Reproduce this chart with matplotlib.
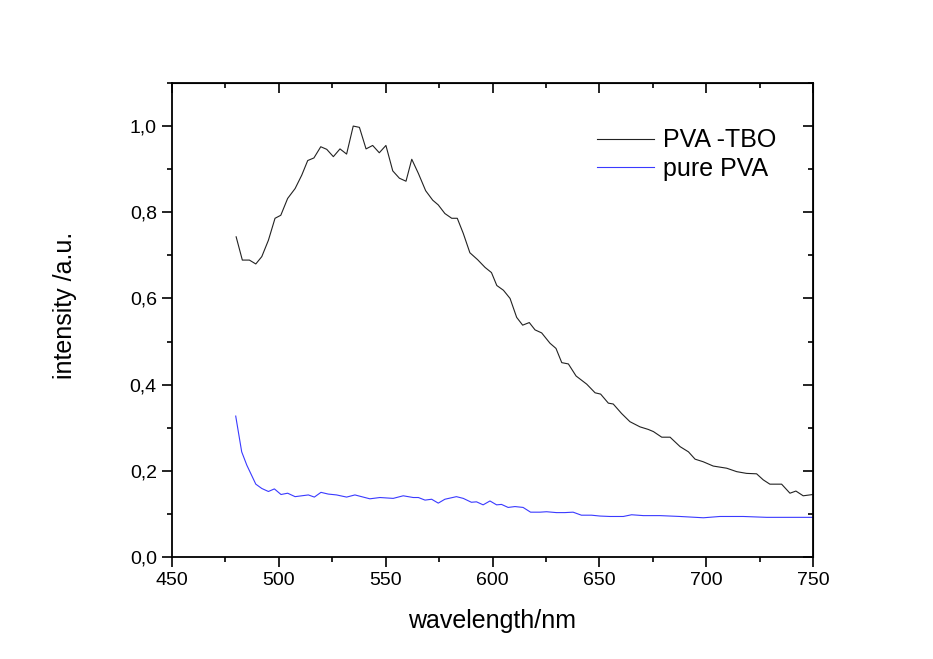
import numpy as np
import matplotlib
matplotlib.use('Agg')
import matplotlib.pyplot as plt
from matplotlib.ticker import MultipleLocator, FuncFormatter

plt.rcParams['font.family'] = ['Liberation Sans', 'DejaVu Sans']

# PVA -TBO spectrum
tbo_wl = [480.0, 482.9, 486.2, 489.2, 492.0, 495.1, 498.2, 500.9, 504.1, 507.6,
          510.7, 513.5, 516.4, 519.6, 522.4, 525.5, 528.6, 531.7, 534.8, 537.7,
          540.8, 543.9, 547.0, 550.1, 553.3, 556.4, 559.5, 562.2, 565.3, 568.7,
          572.0, 574.6, 577.7, 580.9, 583.5, 586.3, 589.4, 593.0, 596.5, 599.5,
          602.0, 605.1, 608.2, 611.3, 614.1, 617.2, 619.9, 623.0, 626.9, 629.7,
          632.4, 635.5, 639.1, 644.1, 648.0, 650.6, 654.2, 656.5, 660.4, 664.3,
          669.0, 672.9, 675.3, 679.2, 683.1, 687.8, 691.7, 694.8, 698.6, 703.3,
          709.6, 714.3, 718.9, 723.6, 726.7, 729.8, 735.3, 739.2, 742.0, 745.4,
          750.0]
tbo_int = [0.743, 0.689, 0.689, 0.680, 0.697, 0.735, 0.786, 0.793, 0.832, 0.855,
           0.886, 0.920, 0.926, 0.952, 0.946, 0.929, 0.947, 0.935, 1.000, 0.997,
           0.947, 0.955, 0.938, 0.955, 0.896, 0.879, 0.872, 0.923, 0.890, 0.850,
           0.828, 0.817, 0.797, 0.786, 0.786, 0.751, 0.706, 0.690, 0.672, 0.660,
           0.630, 0.619, 0.600, 0.556, 0.538, 0.544, 0.527, 0.520, 0.496, 0.484,
           0.451, 0.448, 0.420, 0.401, 0.381, 0.378, 0.357, 0.355, 0.333, 0.314,
           0.302, 0.296, 0.291, 0.278, 0.278, 0.256, 0.244, 0.227, 0.221, 0.211,
           0.206, 0.198, 0.194, 0.193, 0.179, 0.169, 0.169, 0.148, 0.153, 0.142,
           0.145]

# pure PVA spectrum
pva_wl = [479.8, 482.6, 485.0, 489.2, 492.0, 495.1, 497.9, 501.0, 504.1, 507.6,
          510.7, 513.8, 516.6, 519.7, 523.1, 527.0, 531.7, 535.6, 538.7, 542.6,
          547.3, 553.5, 558.2, 562.9, 565.3, 568.4, 571.5, 574.6, 577.7, 583.1,
          586.3, 590.1, 592.5, 595.6, 598.8, 601.9, 604.2, 607.3, 610.5, 614.3,
          617.8, 622.2, 625.3, 629.9, 633.8, 637.7, 641.6, 646.3, 650.3, 655.0,
          661.2, 665.1, 670.6, 678.4, 687.8, 698.7, 706.4, 717.4, 728.3, 737.7,
          750.0]
pva_int = [0.327, 0.244, 0.213, 0.169, 0.159, 0.152, 0.158, 0.145, 0.148, 0.140,
           0.142, 0.144, 0.139, 0.150, 0.146, 0.144, 0.139, 0.144, 0.140, 0.135,
           0.138, 0.136, 0.142, 0.138, 0.138, 0.132, 0.134, 0.125, 0.134, 0.140,
           0.136, 0.127, 0.128, 0.121, 0.130, 0.121, 0.122, 0.115, 0.117, 0.115,
           0.104, 0.104, 0.105, 0.103, 0.103, 0.104, 0.097, 0.097, 0.095, 0.094,
           0.094, 0.098, 0.096, 0.096, 0.094, 0.091, 0.094, 0.094, 0.092, 0.092,
           0.092]

fig = plt.figure(figsize=(9.33, 6.59), dpi=100)
ax = fig.add_axes([0.1844, 0.1548, 0.687, 0.7193])

ax.plot(tbo_wl, tbo_int, color='#222222', lw=0.8, label='PVA -TBO')
ax.plot(pva_wl, pva_int, color='#3a3aff', lw=0.8, label='pure PVA')

ax.set_xlim(450, 750)
ax.set_ylim(0, 1.1)
ax.xaxis.set_major_locator(MultipleLocator(50))
ax.xaxis.set_minor_locator(MultipleLocator(25))
ax.yaxis.set_major_locator(MultipleLocator(0.2))
ax.yaxis.set_minor_locator(MultipleLocator(0.1))
ax.yaxis.set_major_formatter(FuncFormatter(lambda v, p: f"{v:.1f}".replace('.', ',')))

for s in ax.spines.values():
    s.set_linewidth(1.3)

# bottom/left ticks outward, top/right ticks inward
ax.tick_params(which='both', direction='out', top=False, right=False,
               width=1.2, labelsize=14, pad=4)
ax.tick_params(which='major', length=7)
ax.tick_params(which='minor', length=3.5)
ax_top = ax.secondary_xaxis('top')
ax_top.xaxis.set_major_locator(MultipleLocator(50))
ax_top.xaxis.set_minor_locator(MultipleLocator(25))
ax_top.tick_params(which='both', direction='in', labeltop=False, width=1.2)
ax_top.tick_params(which='major', length=7)
ax_top.tick_params(which='minor', length=3.5)
ax_right = ax.secondary_yaxis('right')
ax_right.yaxis.set_major_locator(MultipleLocator(0.2))
ax_right.yaxis.set_minor_locator(MultipleLocator(0.1))
ax_right.tick_params(which='both', direction='in', labelright=False, width=1.2)
ax_right.tick_params(which='major', length=7)
ax_right.tick_params(which='minor', length=3.5)

ax.set_xlabel('wavelength/nm', fontsize=18, va='center')
ax.set_ylabel('intensity /a.u.', fontsize=18, va='center')
ax.xaxis.set_label_coords(0.499, -0.135)
ax.yaxis.set_label_coords(-0.167, 0.53)

ax.legend(loc='upper left', bbox_to_anchor=(0.6626, 0.904), frameon=False,
          fontsize=18, handlelength=2.3, handletextpad=0.35, borderpad=0,
          labelspacing=0.18, borderaxespad=0)

fig.savefig('out.png', dpi=100)
